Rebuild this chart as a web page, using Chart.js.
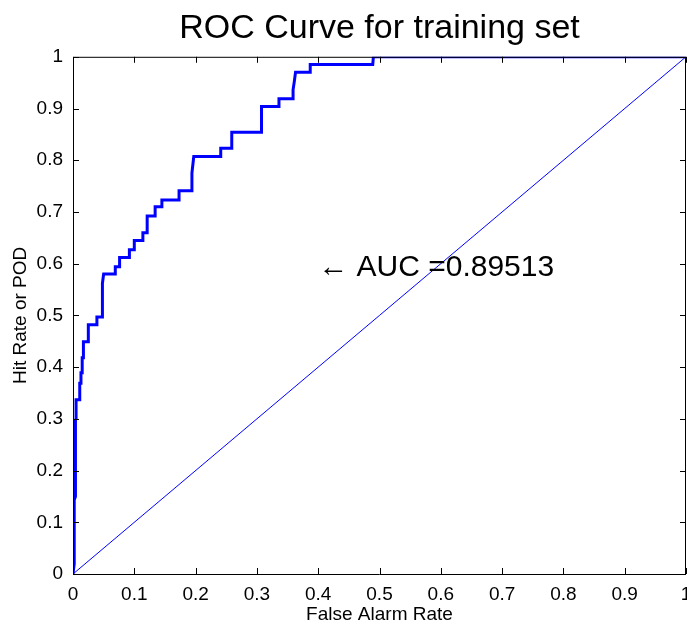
<!DOCTYPE html>
<html>
<head>
<meta charset="utf-8">
<script src="https://cdn.jsdelivr.net/npm/chart.js@4/dist/chart.umd.min.js"></script>
<style>
  body { margin: 0; background: #fff; }
  #wrap { width: 687px; height: 628px; }
</style>
</head>
<body>
<div id="wrap"><canvas id="rocChart" width="687" height="628"></canvas></div>
<script>
// ROC curve vertices
const falseAlarm = [0, 0.002, 0.002, 0.004, 0.004, 0.005, 0.005, 0.011, 0.011, 0.013, 0.013, 0.015, 0.015, 0.017, 0.017,
  0.025, 0.025, 0.039, 0.039, 0.048, 0.048, 0.05, 0.069, 0.069, 0.076, 0.076, 0.092, 0.092, 0.1, 0.1,
  0.114, 0.114, 0.121, 0.121, 0.134, 0.134, 0.145, 0.145, 0.173, 0.173, 0.194, 0.194, 0.197, 0.241, 0.241,
  0.259, 0.259, 0.307, 0.307, 0.308, 0.336, 0.336, 0.359, 0.359, 0.361, 0.363, 0.387, 0.387, 0.489, 0.49, 1];
const hitRate = [0, 0.02, 0.143, 0.15, 0.298, 0.30, 0.337, 0.337, 0.369, 0.369, 0.389, 0.389, 0.418, 0.418, 0.449,
  0.449, 0.482, 0.482, 0.497, 0.497, 0.562, 0.58, 0.58, 0.594, 0.594, 0.612, 0.612, 0.627, 0.627, 0.645,
  0.645, 0.66, 0.66, 0.692, 0.692, 0.71, 0.71, 0.723, 0.723, 0.741, 0.741, 0.775, 0.807, 0.807, 0.823,
  0.823, 0.854, 0.854, 0.872, 0.904, 0.904, 0.919, 0.919, 0.936, 0.952, 0.970, 0.970, 0.985, 0.985, 1, 1];
const chanceX = [0, 1];
const chanceY = [0, 1];
const axisTicks = [0, 0.1, 0.2, 0.3, 0.4, 0.5, 0.6, 0.7, 0.8, 0.9, 1];
const aucLabel = '\u2190 AUC =0.89513';

const FONT = '"Liberation Sans", Arial, sans-serif';

function toPoints(xs, ys) {
    return xs.map(function (x, i) { return { x: x, y: ys[i] }; });
}

// MATLAB style box with inward ticks, plus the AUC note
const boxPlugin = {
    id: 'boxPlugin',
    afterDraw: function (chart) {
        const ctx = chart.ctx;
        const a = chart.chartArea;
        const xs = chart.scales.x;
        const ys = chart.scales.y;
        const len = 6;
        ctx.save();
        ctx.strokeStyle = '#000';
        ctx.lineWidth = 1;
        ctx.beginPath();
        ctx.rect(a.left + 0.5, a.top + 0.5, a.right - a.left - 1, a.bottom - a.top);
        axisTicks.forEach(function (t) {
            const px = Math.round(xs.getPixelForValue(t)) + 0.5;
            ctx.moveTo(px, a.bottom); ctx.lineTo(px, a.bottom - len);
            ctx.moveTo(px, a.top); ctx.lineTo(px, a.top + len);
            const py = Math.round(ys.getPixelForValue(t)) + 0.5;
            ctx.moveTo(a.left, py); ctx.lineTo(a.left + len, py);
            ctx.moveTo(a.right, py); ctx.lineTo(a.right - len, py);
        });
        ctx.stroke();

        ctx.fillStyle = '#000';
        ctx.font = '30px ' + FONT;
        ctx.textAlign = 'left';
        ctx.textBaseline = 'middle';
        ctx.fillText(aucLabel, xs.getPixelForValue(0.4), ys.getPixelForValue(0.592));
        ctx.restore();
    }
};

const ctx = document.getElementById('rocChart').getContext('2d');
new Chart(ctx, {
    type: 'scatter',
    data: {
        datasets: [
            {
                label: 'chance',
                data: toPoints(chanceX, chanceY),
                showLine: true,
                borderColor: '#0000ff',
                borderWidth: 1,
                pointRadius: 0,
                fill: false
            },
            {
                label: 'ROC',
                data: toPoints(falseAlarm, hitRate),
                showLine: true,
                borderColor: '#0000ff',
                borderWidth: 3,
                pointRadius: 0,
                fill: false
            }
        ]
    },
    options: {
        responsive: false,
        animation: false,
        layout: { padding: { top: 0, right: 1, bottom: 0, left: 0 } },
        plugins: {
            legend: { display: false },
            tooltip: { enabled: false },
            title: {
                display: true,
                fullSize: false,
                text: 'ROC Curve for training set',
                color: '#000',
                font: { family: FONT, size: 34, weight: 'normal' },
                padding: { top: 8, bottom: 8 }
            }
        },
        scales: {
            x: {
                type: 'linear',
                min: 0,
                max: 1,
                grid: { display: false },
                border: { display: false },
                afterBuildTicks: function (s) { s.ticks = axisTicks.map(function (v) { return { value: v }; }); },
                ticks: {
                    color: '#000',
                    padding: 1,
                    maxRotation: 0,
                    autoSkip: false,
                    font: { family: FONT, size: 19 },
                    callback: function (v) { return String(Number(v.toFixed(1))); }
                },
                title: {
                    display: true,
                    text: 'False Alarm Rate',
                    color: '#000',
                    font: { family: FONT, size: 19 },
                    padding: { top: 0, bottom: 2 }
                },
                afterFit: function (s) { s.height = 54; s.paddingLeft = 0; s.paddingRight = 0; }
            },
            y: {
                type: 'linear',
                min: 0,
                max: 1,
                grid: { display: false },
                border: { display: false },
                afterBuildTicks: function (s) { s.ticks = axisTicks.map(function (v) { return { value: v }; }); },
                ticks: {
                    color: '#000',
                    padding: 2,
                    autoSkip: false,
                    font: { family: FONT, size: 19 },
                    callback: function (v) { return String(Number(v.toFixed(1))); }
                },
                title: {
                    display: true,
                    text: 'Hit Rate or POD',
                    color: '#000',
                    font: { family: FONT, size: 19 },
                    padding: { top: 9, bottom: 0 }
                },
                afterFit: function (s) { s.width = 73; s.paddingTop = 0; s.paddingBottom = 0; }
            }
        }
    },
    plugins: [boxPlugin]
});
</script>
</body>
</html>
